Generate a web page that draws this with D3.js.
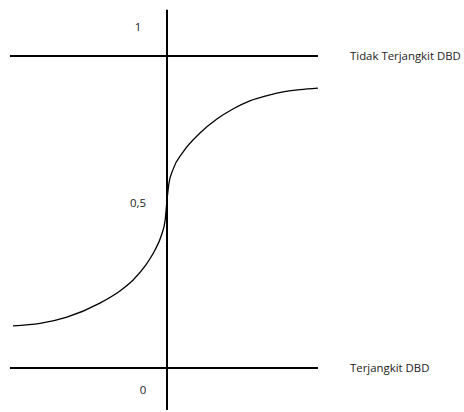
<!DOCTYPE html>
<html>
<head>
<meta charset="utf-8">
<script src="https://cdn.jsdelivr.net/npm/d3@7"></script>
<style>
  html, body { margin: 0; padding: 0; background: #fff; }
  svg { display: block; }
  text { font-family: "Open Sans", "Liberation Sans", sans-serif; font-size: 11.4px; fill: #222; }
</style>
</head>
<body>
<svg id="chart" width="464" height="412"></svg>
<script>
// Data
const curveX = [-5, -4.12, -3.25, -2.18, -1.53, -1.10, -0.71, -0.39, -0.19, -0.06, 0, 0.06, 0.19, 0.52, 1.07, 1.62, 2.14, 2.69, 3.25, 3.77, 4.32, 4.90];
const curveY = [0.135, 0.143, 0.163, 0.208, 0.247, 0.282, 0.327, 0.378, 0.423, 0.474, 0.538, 0.590, 0.635, 0.692, 0.753, 0.798, 0.830, 0.856, 0.873, 0.885, 0.892, 0.897];
const levelValues = [1, 0];
const levelLabels = ["Tidak Terjangkit DBD", "Terjangkit DBD"];
const tickValues = [1, 0.5, 0];
const tickLabels = ["1", "0,5", "0"];

const svg = d3.select("#chart");
const x = d3.scaleLinear().domain([-5, 5]).range([13, 321]);
const y = d3.scaleLinear().domain([0, 1]).range([368, 56]);

// horizontal level lines
svg.selectAll("line.level").data(levelValues).join("line")
  .attr("class", "level")
  .attr("x1", x(-5.1)).attr("x2", x(4.9))
  .attr("y1", d => y(d)).attr("y2", d => y(d))
  .attr("stroke", "#000").attr("stroke-width", 2);

// vertical axis
svg.append("line")
  .attr("x1", x(0)).attr("x2", x(0))
  .attr("y1", y(1.148)).attr("y2", y(-0.135))
  .attr("stroke", "#000").attr("stroke-width", 2);

// curve
const pts = curveX.map((v, i) => [v, curveY[i]]);
svg.append("path")
  .datum(pts)
  .attr("fill", "none")
  .attr("stroke", "#000")
  .attr("stroke-width", 1.3)
  .attr("d", d3.line().x(d => x(d[0])).y(d => y(d[1])).curve(d3.curveMonotoneX));

// tick labels (hand-placed next to axis)
const tickDy = [-25, -5, 26];
const tickDx = [-29, -29, -24];
svg.selectAll("text.tick").data(tickValues).join("text")
  .attr("class", "tick")
  .attr("x", (d, i) => x(0) + tickDx[i])
  .attr("y", (d, i) => y(d) + tickDy[i])
  .attr("text-anchor", "middle")
  .text((d, i) => tickLabels[i]);

// level labels
svg.selectAll("text.level").data(levelValues).join("text")
  .attr("class", "level")
  .attr("x", 350)
  .attr("y", d => y(d) + 4)
  .text((d, i) => levelLabels[i]);
</script>
</body>
</html>
